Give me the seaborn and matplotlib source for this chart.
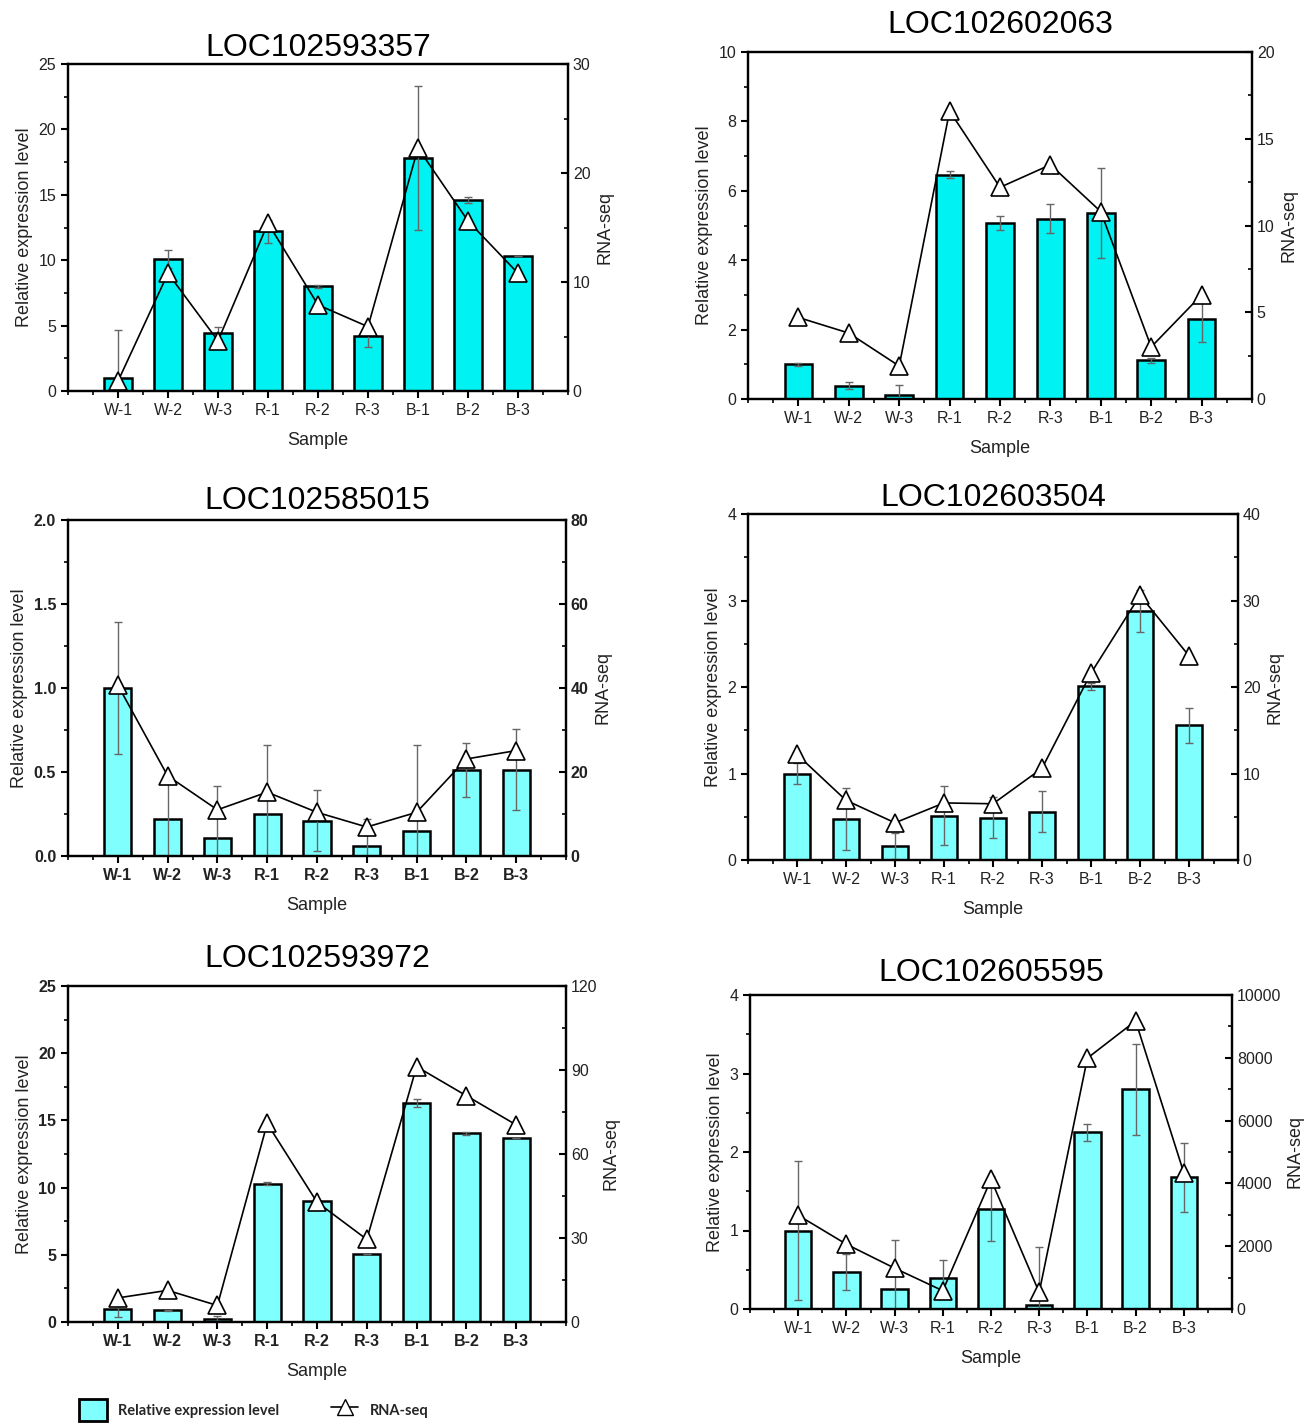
import numpy as np
import seaborn as sns
import matplotlib.pyplot as plt
from matplotlib.patches import Patch
from matplotlib.lines import Line2D
from matplotlib.ticker import MultipleLocator

sns.set_style('ticks')
plt.rcParams['font.family'] = ['Liberation Sans', 'DejaVu Sans']

samples = ['W-1', 'W-2', 'W-3', 'R-1', 'R-2', 'R-3', 'B-1', 'B-2', 'B-3']

# LOC102593357
rel_357 = [1.0, 10.1, 4.4, 12.2, 8.0, 4.2, 17.8, 14.6, 10.3]
err_357 = [3.7, 0.7, 0.5, 0.9, 0.1, 0.8, 5.5, 0.2, 0.0]
rna_357 = [0.9, 10.8, 4.6, 15.4, 7.9, 5.9, 22.3, 15.6, 10.8]

# LOC102602063
rel_063 = [1.0, 0.38, 0.12, 6.46, 5.06, 5.2, 5.36, 1.12, 2.3]
err_063 = [0.05, 0.1, 0.28, 0.1, 0.2, 0.43, 1.3, 0.07, 0.67]
rna_063 = [4.7, 3.8, 1.9, 16.6, 12.2, 13.5, 10.8, 3.0, 6.0]

# LOC102585015
rel_015 = [1.0, 0.22, 0.106, 0.25, 0.21, 0.06, 0.148, 0.514, 0.514]
err_015 = [0.39, 0.24, 0.31, 0.41, 0.18, 0.16, 0.51, 0.16, 0.24]
rna_015 = [40.7, 19.1, 11.0, 15.2, 10.4, 6.9, 10.4, 23.1, 25.1]

# LOC102603504
rel_504 = [1.0, 0.47, 0.16, 0.51, 0.49, 0.56, 2.01, 2.88, 1.555]
err_504 = [0.12, 0.36, 0.15, 0.34, 0.24, 0.24, 0.04, 0.24, 0.2]
rna_504 = [12.2, 6.9, 4.3, 6.6, 6.5, 10.6, 21.6, 30.6, 23.6]

# LOC102593972
rel_972 = [0.99, 0.87, 0.25, 10.3, 9.03, 5.07, 16.3, 14.03, 13.7]
err_972 = [0.6, 0.05, 0.2, 0.1, 0.0, 0.0, 0.3, 0.1, 0.0]
rna_972 = [8.6, 11.3, 5.9, 70.9, 42.8, 29.5, 91.2, 80.8, 70.4]

# LOC102605595
rel_595 = [1.0, 0.466, 0.26, 0.39, 1.28, 0.055, 2.25, 2.8, 1.68]
err_595 = [0.88, 0.23, 0.62, 0.24, 0.42, 0.74, 0.11, 0.58, 0.44]
rna_595 = [2984, 2063, 1300, 582, 4127, 529, 7989, 9175, 4339]

W, H = 1315, 1425
fig = plt.figure(figsize=(W / 100, H / 100), dpi=100)

cyan1 = '#00F2F2'
cyan2 = '#80FFFF'


def panel(box, title, rel, err, rna, ylim, ystep, rlim, rstep, color,
          bold_x=False, bold_l=False, bold_r=False, title_pad=8):
    l, t, r, b = box
    ax = fig.add_axes([l / W, 1 - b / H, (r - l) / W, (b - t) / H])
    sns.barplot(x=samples, y=rel, ax=ax, color=color, saturation=1,
                width=0.55, edgecolor='black', linewidth=1.8, zorder=2)
    ax.errorbar(np.arange(9), rel, yerr=err, fmt='none', ecolor='#666666',
                elinewidth=1, capsize=3, capthick=1, zorder=3)
    ax.set_xlim(-1, 9)
    ax.set_ylim(*ylim)
    ax.yaxis.set_major_locator(MultipleLocator(ystep))
    ax.yaxis.set_minor_locator(MultipleLocator(ystep / 2))
    ax.set_xticks(range(9))
    ax.set_xticklabels(samples)
    ax.set_xticks(np.arange(-1, 9.01, 0.5), minor=True)
    ax.set_xlabel('Sample', fontsize=13, color='#222222', labelpad=10)
    ax.set_ylabel('Relative expression level', fontsize=13, color='#222222')
    ax.set_title(title, fontsize=23, pad=title_pad, color='black')
    ax.tick_params(axis='both', which='major', direction='out', length=5,
                   width=1.5, labelsize=11.5, labelcolor='#222222',
                   color='black')
    ax.tick_params(axis='both', which='minor', direction='out', length=3,
                   width=1.2, color='black')
    for s in ax.spines.values():
        s.set_linewidth(1.6)
        s.set_color('black')
        s.set_visible(True)

    ax2 = ax.twinx()
    sns.lineplot(x=np.arange(9), y=rna, ax=ax2, color='black', lw=1.2,
                 marker='^', markersize=13, markerfacecolor='white',
                 markeredgecolor='black', markeredgewidth=1.2, zorder=5)
    ax2.set_ylim(*rlim)
    ax2.yaxis.set_major_locator(MultipleLocator(rstep))
    ax2.yaxis.set_minor_locator(MultipleLocator(rstep / 2))
    ax2.set_ylabel('RNA-seq', fontsize=13, color='#222222')
    ax2.tick_params(axis='y', which='major', direction='in', length=5,
                    width=1.5, labelsize=11.5, labelcolor='#222222',
                    color='black')
    ax2.tick_params(axis='y', which='minor', direction='in', length=3,
                    width=1.2, color='black')
    for s in ax2.spines.values():
        s.set_linewidth(1.6)
        s.set_color('black')
    ax2.set_xlim(-1, 9)

    if bold_x:
        for lab in ax.get_xticklabels():
            lab.set_fontweight('bold')
    if bold_l:
        for lab in ax.get_yticklabels():
            lab.set_fontweight('bold')
    if bold_r:
        for lab in ax2.get_yticklabels():
            lab.set_fontweight('bold')
    return ax, ax2


panel((68, 64, 568, 391), 'LOC102593357', rel_357, err_357, rna_357,
      (0, 25), 5, (0, 30), 10, cyan1, title_pad=6)
panel((748, 52, 1252, 399), 'LOC102602063', rel_063, err_063, rna_063,
      (0, 10), 2, (0, 20), 5, cyan1, title_pad=14)
panel((68, 520, 566, 856), 'LOC102585015', rel_015, err_015, rna_015,
      (0, 2.0), 0.5, (0, 80), 20, cyan2, bold_x=True, bold_l=True,
      bold_r=True, title_pad=8)
panel((748, 514, 1238, 860), 'LOC102603504', rel_504, err_504, rna_504,
      (0, 4), 1, (0, 40), 10, cyan2, title_pad=6)
panel((68, 986, 566, 1322), 'LOC102593972', rel_972, err_972, rna_972,
      (0, 25), 5, (0, 120), 30, cyan2, bold_x=True, bold_l=True,
      title_pad=14)
panel((750, 995, 1232, 1309), 'LOC102605595', rel_595, err_595, rna_595,
      (0, 4), 1, (0, 10000), 2000, cyan2, title_pad=10)

handles = [
    Patch(facecolor=cyan2, edgecolor='black', linewidth=2),
    Line2D([0], [0], color='black', lw=1.2, marker='^', markersize=12,
           markerfacecolor='white', markeredgecolor='black'),
]
fig.legend(handles, ['Relative expression level', 'RNA-seq'],
           loc='center left', bbox_to_anchor=(66 / W, 1 - 1410 / H),
           ncol=2, frameon=False, handlelength=1.9, handleheight=1.9,
           columnspacing=3.5, prop={'family': 'Lato', 'weight': 'bold',
                                    'size': 10.5})

fig.savefig('out.png', dpi=100)
